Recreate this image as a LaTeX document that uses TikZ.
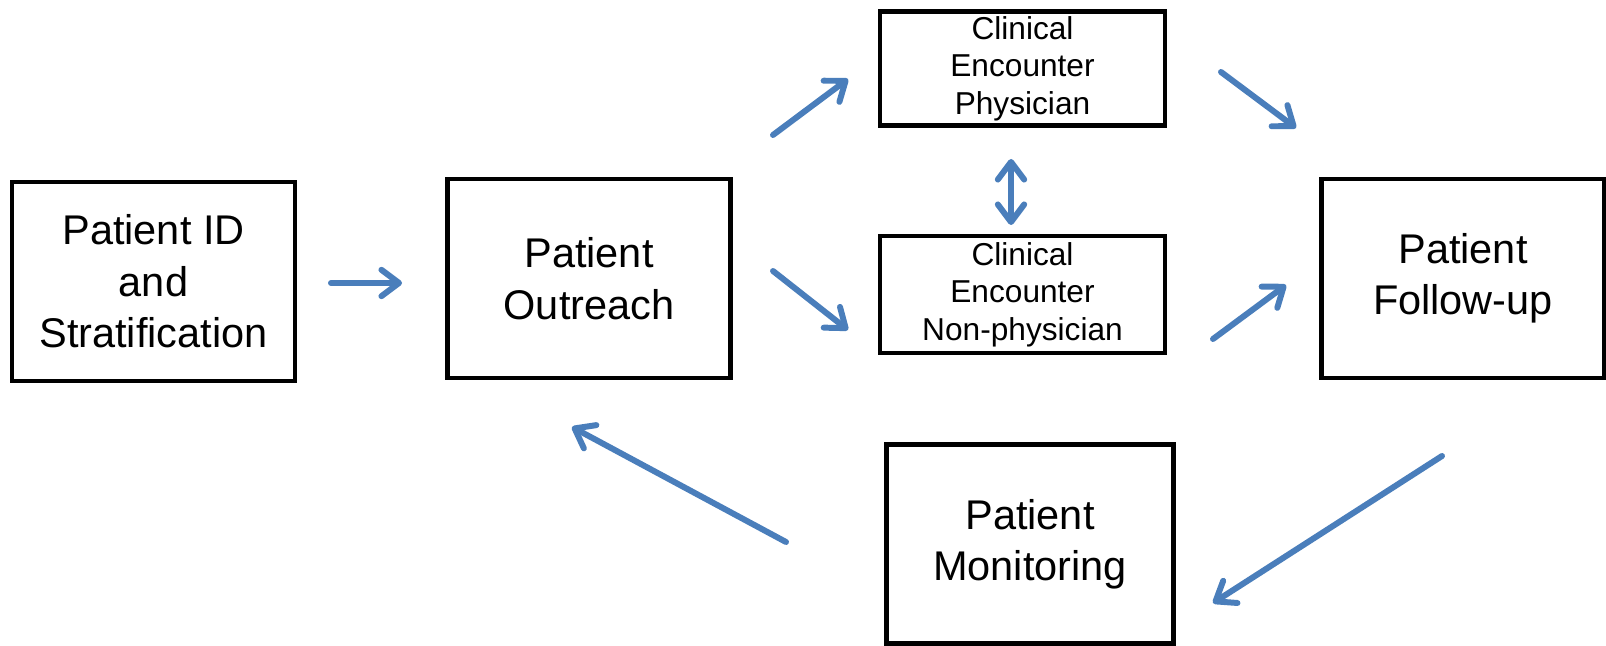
\documentclass[tikz,border=0pt]{standalone}
\usepackage{fontspec}
\setmainfont{Liberation Sans}
\usetikzlibrary{arrows.meta,positioning}
\definecolor{flowblue}{RGB}{74,126,187}

\begin{document}
\begin{tikzpicture}[x=0.01cm,y=-0.01cm,
  box/.style={draw,line width=1.3pt,align=center,inner sep=0pt,minimum width=2.83cm,minimum height=1.99cm,font=\fontsize{11.8}{14.6}\selectfont},
  smallbox/.style={box,minimum width=2.85cm,minimum height=1.14cm,font=\fontsize{9}{10.7}\selectfont},
  barb/.tip={Straight Barb[length=5pt,width=7.5pt,line cap=round,line join=round]},
  flow/.style={flowblue,line width=1.7pt,line cap=round,-barb},
  both/.style={flow,barb-barb}]
\useasboundingbox (0,0) rectangle (1606,646);

% boxes
\node[box] (id) at (153.5,281.5) {Patient ID\\and\\Stratification};
\node[box] (outreach) at (589,278.5) {Patient\\Outreach};
\node[smallbox] (physician) at (1022.5,68.5) {Clinical\\Encounter\\Physician};
\node[smallbox,minimum height=1.17cm] (nonphys) at (1022.5,294.5) {Clinical\\Encounter\\Non-physician};
\node[box] (followup) at (1463,278.5) {Patient\\Follow-up};
\node[box,minimum width=2.87cm] (monitoring) at (1030,544) {Patient\\Monitoring};

% arrow ends
\coordinate (idout) at (331,283);
\coordinate (outin) at (402,283);
\coordinate (outup) at (773,135);
\coordinate (physin) at (848,79);
\coordinate (outdown) at (773,271);
\coordinate (nonin) at (848,330);
\coordinate (physdn) at (1011,159);
\coordinate (nonup) at (1011,225);
\coordinate (physout) at (1221,72);
\coordinate (fupin) at (1296,128);
\coordinate (nonout) at (1213,339);
\coordinate (fupin2) at (1286,285);
\coordinate (fupout) at (1442,456);
\coordinate (monin) at (1213,603);
\coordinate (monout) at (786,542);
\coordinate (outback) at (572,427);

% flow
\draw[flow] (idout) -- (outin);
\draw[flow] (outup) -- (physin);
\draw[flow] (outdown) -- (nonin);
\draw[both] (physdn) -- (nonup);
\draw[flow] (physout) -- (fupin);
\draw[flow] (nonout) -- (fupin2);
\draw[flow] (fupout) -- (monin);
\draw[flow] (monout) -- (outback);
\end{tikzpicture}
\end{document}
